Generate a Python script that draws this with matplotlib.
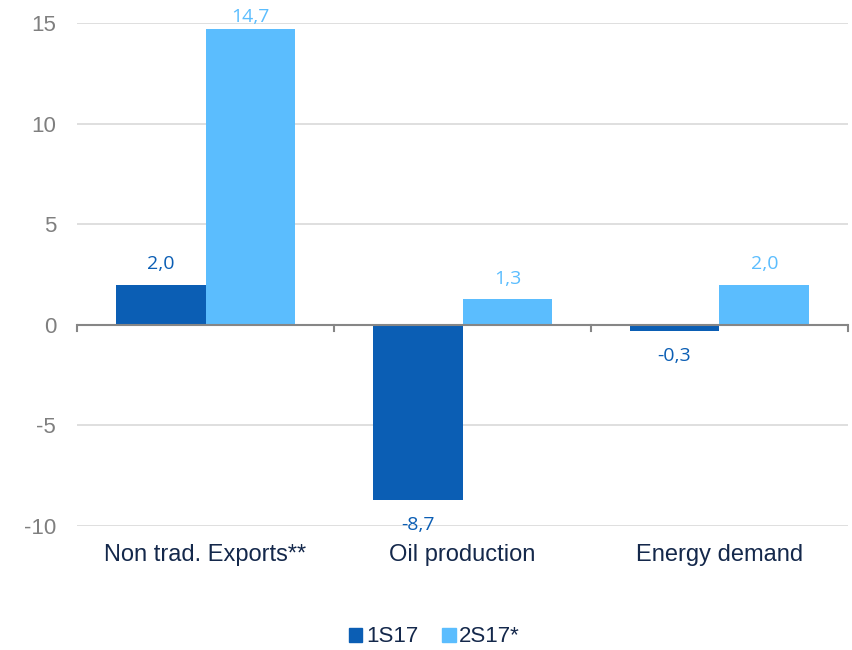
import numpy as np
import matplotlib.pyplot as plt
from matplotlib.patches import Patch

categories = ["Non trad. Exports**", "Oil production", "Energy demand"]
series_names = ["1S17", "2S17*"]
values_1s17 = [2.0, -8.7, -0.3]
values_2s17 = [14.7, 1.3, 2.0]

dark = "#0B5EB4"
light = "#5BBDFE"
navy = "#14284B"
ymin, ymax = -10, 15

plt.rcParams['font.family'] = ['Liberation Sans', 'DejaVu Sans']
plt.rcParams['axes.unicode_minus'] = False

fig = plt.figure(figsize=(8.52, 6.5), dpi=100)
ax = fig.add_axes([0.0904, 0.1908, 0.9049, 0.7738])

x = np.arange(len(categories))
w = 0.35
b1 = ax.bar(x - w / 2, values_1s17, w, color=dark, zorder=3)
b2 = ax.bar(x + w / 2, values_2s17, w, color=light, zorder=3)

def fmt(v):
    return ("%.1f" % v).replace(".", ",")

for bars, vals, col in [(b1, values_1s17, dark), (b2, values_2s17, light)]:
    for r, v in zip(bars, vals):
        cx = r.get_x() + r.get_width() / 2
        if v >= 0:
            # labels near the top edge get squeezed so they stay inside
            off = 8 if v < ymax - 1 else 2
            va = "bottom"
        else:
            off, va = -12, "top"
        ax.annotate(fmt(v), (cx, v), xytext=(0, off), textcoords="offset points",
                    ha="center", va=va, color=col, fontsize=14,
                    family=["Open Sans", "DejaVu Sans"])

ax.set_xlim(-0.5, 2.5)
ax.set_ylim(ymin, ymax)
ax.set_yticks([-10, -5, 0, 5, 10, 15])
ax.yaxis.grid(True, color="#D9D9D9", linewidth=1.2, zorder=0)
ax.axhline(0, color="#868686", linewidth=1.5, zorder=4)

for s in ax.spines.values():
    s.set_visible(False)

ax.tick_params(axis="y", length=0, pad=15, labelsize=16, labelcolor="#7F7F7F")
ax.set_xticks(x)
ax.set_xticklabels(categories)
ax.tick_params(axis="x", length=0, pad=13, labelsize=17, labelcolor=navy)

# tick marks between the categories, hanging off the zero line
for xb in [-0.5, 0.5, 1.5, 2.5]:
    ax.plot([xb, xb], [0, -0.3], color="#868686", linewidth=1.5, zorder=4,
            clip_on=False)

handles = [Patch(color=dark), Patch(color=light)]
fig.legend(handles, series_names, loc="center", bbox_to_anchor=(0.51, 0.02),
           ncol=2, frameon=False, fontsize=16, handlelength=0.6,
           handleheight=0.6, handletextpad=0.15, columnspacing=1.1,
           labelcolor=navy)

fig.savefig("out.png", dpi=100)
